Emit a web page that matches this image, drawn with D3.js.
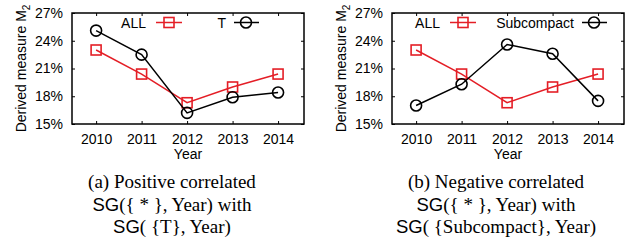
<!DOCTYPE html>
<html>
<head>
<meta charset="utf-8">
<script src="https://cdn.jsdelivr.net/npm/d3@7"></script>
<style>
  body { margin: 0; background: #fff; }
  svg text { font-family: "Liberation Sans", Arial, sans-serif; }
  .cap { font-family: "Liberation Serif", "Times New Roman", serif; }
  .sf { font-family: "Liberation Sans", Arial, sans-serif; }
</style>
</head>
<body>
<svg id="chart" width="636" height="243"></svg>
<script>
// values (percent)
const years = [2010, 2011, 2012, 2013, 2014]
const allValues = [23.0, 20.4, 17.3, 19.0, 20.4]
const tValues = [25.1, 22.5, 16.2, 17.9, 18.4]
const subcompactValues = [17.0, 19.3, 23.6, 22.6, 17.5]
const yTicks = [15, 18, 21, 24, 27]
const yDomain = [15, 27]
const xDomain = [2009.47, 2014.57]

const red = "#e41e26"
const svg = d3.select("#chart")

// one panel = one gnuplot style chart
function drawPanel(p) {
    const w = 232, h = 111
    const g = svg.append("g").attr("transform", "translate(" + p.left + ",13)")

    const x = d3.scaleLinear().domain(xDomain).range([0, w])
    const y = d3.scaleLinear().domain(yDomain).range([h, 0])

    // axes, ticks pointing inward on all four sides
    g.append("g")
        .call(d3.axisLeft(y).tickValues(yTicks).tickSize(-3).tickPadding(9).tickFormat(d => d + "%"))
        .call(a => a.select(".domain").remove())
        .selectAll("text").attr("font-size", 14).attr("fill", "#000")
    g.append("g").attr("transform", "translate(" + w + ",0)")
        .call(d3.axisRight(y).tickValues(yTicks).tickSize(-3).tickFormat(""))
        .call(a => a.select(".domain").remove())
    g.append("g").attr("transform", "translate(0," + h + ")")
        .call(d3.axisBottom(x).tickValues(years).tickSize(-3).tickPadding(10).tickFormat(d3.format("d")))
        .call(a => a.select(".domain").remove())
        .selectAll("text").attr("font-size", 14).attr("fill", "#000")
    g.append("g")
        .call(d3.axisTop(x).tickValues(years).tickSize(-3).tickFormat(""))
        .call(a => a.select(".domain").remove())
    g.selectAll(".tick line").attr("stroke", "#000")

    g.append("rect")
        .attr("width", w).attr("height", h)
        .attr("fill", "none").attr("stroke", "#000").attr("stroke-width", 1.5)

    // axis titles
    g.append("text")
        .attr("x", w / 2).attr("y", h + 34.5)
        .attr("text-anchor", "middle").attr("font-size", 14)
        .text("Year")
    const yl = g.append("text")
        .attr("transform", "translate(-46," + (h / 2) + ") rotate(-90)")
        .attr("text-anchor", "middle").attr("font-size", 14)
    yl.append("tspan").text("Derived measure M")
    yl.append("tspan").attr("font-size", 10).attr("dy", 4).text("2")

    const line = d3.line().x((d, i) => x(years[i])).y(d => y(d))

    // ALL series, squares
    g.append("path").datum(allValues)
        .attr("fill", "none").attr("stroke", red).attr("stroke-width", 1.5).attr("d", line)
    g.selectAll(".sq").data(allValues).enter().append("rect")
        .attr("x", (d, i) => x(years[i]) - 5).attr("y", d => y(d) - 5)
        .attr("width", 10).attr("height", 10)
        .attr("fill", "none").attr("stroke", red).attr("stroke-width", 1.6)

    // compared series, circles
    g.append("path").datum(p.values)
        .attr("fill", "none").attr("stroke", "#000").attr("stroke-width", 1.5).attr("d", line)
    g.selectAll(".ci").data(p.values).enter().append("circle")
        .attr("cx", (d, i) => x(years[i])).attr("cy", d => y(d)).attr("r", 5.5)
        .attr("fill", "none").attr("stroke", "#000").attr("stroke-width", 1.6)

    // legend
    const ly = 9.5
    g.append("text").attr("x", p.leg[0]).attr("y", ly + 5).attr("text-anchor", "end")
        .attr("font-size", 14).text("ALL")
    g.append("line").attr("x1", p.leg[0] + 10).attr("x2", p.leg[0] + 36)
        .attr("y1", ly).attr("y2", ly).attr("stroke", red).attr("stroke-width", 1.5)
    g.append("rect").attr("x", p.leg[0] + 18).attr("y", ly - 5).attr("width", 10).attr("height", 10)
        .attr("fill", "none").attr("stroke", red).attr("stroke-width", 1.6)
    g.append("text").attr("x", p.leg[1]).attr("y", ly + 5).attr("text-anchor", "end")
        .attr("font-size", 14).text(p.name)
    g.append("line").attr("x1", p.leg[1] + 8).attr("x2", p.leg[1] + 33)
        .attr("y1", ly).attr("y2", ly).attr("stroke", "#000").attr("stroke-width", 1.5)
    g.append("circle").attr("cx", p.leg[1] + 20).attr("cy", ly).attr("r", 5.5)
        .attr("fill", "none").attr("stroke", "#000").attr("stroke-width", 1.6)

    // caption
    const lines = [
        ["", "(" + p.tag + ") " + p.caption],
        ["SG", "({ * }, Year) with"],
        ["SG", "( {" + p.name + "}, Year)"]
    ]
    lines.forEach((l, i) => {
        const t = svg.append("text").attr("class", "cap")
            .attr("x", p.capX).attr("y", 188 + i * 22.5)
            .attr("text-anchor", "middle").attr("font-size", 19)
        if (l[0]) t.append("tspan").attr("class", "sf").attr("font-size", 18.5).text(l[0])
        t.append("tspan").text(l[1])
    })
}

drawPanel({left: 72, values: tValues, name: "T", leg: [74, 154], tag: "a",
    caption: "Positive correlated", capX: 172})
drawPanel({left: 392, values: subcompactValues, name: "Subcompact", leg: [48, 182], tag: "b",
    caption: "Negative correlated", capX: 496})
</script>
</body>
</html>
